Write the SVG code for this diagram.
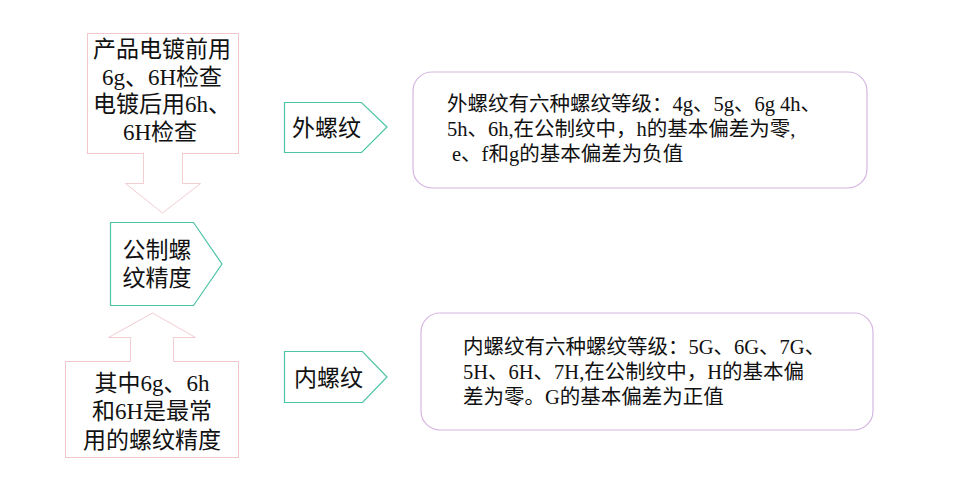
<svg xmlns="http://www.w3.org/2000/svg" width="960" height="489" viewBox="0 0 960 489">
<style>
  .bg{fill:#ffffff}
  .pinkbox{fill:#ffffff;stroke:#f2c6cc;stroke-width:1}
  .arrow{fill:#ffffff;stroke:#f2cdd2;stroke-width:1}
  .penta{fill:#ffffff;stroke:#4cc4a6;stroke-width:1.2}
  .round{fill:#ffffff;stroke:#d6b6e2;stroke-width:1.2}
  text{font-family:"Liberation Serif","Noto Sans CJK SC",serif;fill:#111111}
  .big{font-size:23px}
  .mid{font-size:20.5px}
  .c{text-anchor:middle}
</style>
<rect class="bg" x="0" y="0" width="960" height="489"/>
<g id="node-plating">
  <rect class="pinkbox" x="87.5" y="33.5" width="151" height="120"/>
  <text class="big c" x="162" y="57">产品电镀前用</text>
  <text class="big c" x="162" y="85">6g、6H检查</text>
  <text class="big c" x="162" y="112">电镀后用6h、</text>
  <text class="big c" x="160" y="140">6H检查</text>
</g>
<g id="node-common">
  <rect class="pinkbox" x="65.5" y="361.5" width="173" height="96"/>
  <text class="big c" x="152" y="391">其中6g、6h</text>
  <text class="big c" x="152" y="419">和6H是最常</text>
  <text class="big c" x="152" y="448">用的螺纹精度</text>
</g>
<g id="connectors">
  <path class="arrow" d="M143.5,152.5 V183.5 H125.5 L162.5,213 L200.5,183.5 H182.5 V152.5"/>
  <path class="arrow" d="M130.5,362 V337.5 H108.5 L152.5,313 L195.5,337.5 H173.5 V362"/>
</g>
<g id="node-metric">
  <polygon class="penta" points="110.5,222.5 193.5,222.5 222,264 193.5,305.5 110.5,305.5"/>
  <text class="big c" x="157" y="258">公制螺</text>
  <text class="big c" x="157" y="286">纹精度</text>
</g>
<g id="node-external">
  <polygon class="penta" points="284.5,102.5 361.5,102.5 387,127 361.5,152.5 284.5,152.5"/>
  <text class="big" x="292" y="136">外螺纹</text>
</g>
<g id="node-internal">
  <polygon class="penta" points="284.5,351.5 362.5,351.5 387,377 362.5,402.5 284.5,402.5"/>
  <text class="big" x="294" y="386">内螺纹</text>
</g>
<g id="node-external-desc">
  <rect class="round" x="413" y="72" width="454" height="116" rx="19" ry="19"/>
  <text class="mid" x="447" y="111">外螺纹有六种螺纹等级：4g、5g、6g 4h、</text>
  <text class="mid" x="447" y="136">5h、6h,在公制纹中，h的基本偏差为零,</text>
  <text class="mid" x="452" y="161">e、f和g的基本偏差为负值</text>
</g>
<g id="node-internal-desc">
  <rect class="round" x="421" y="313" width="452" height="117" rx="19" ry="19"/>
  <text class="mid" x="463" y="354">内螺纹有六种螺纹等级：5G、6G、7G、</text>
  <text class="mid" x="463" y="379">5H、6H、7H,在公制纹中，H的基本偏</text>
  <text class="mid" x="463" y="404">差为零。G的基本偏差为正值</text>
</g>
</svg>
